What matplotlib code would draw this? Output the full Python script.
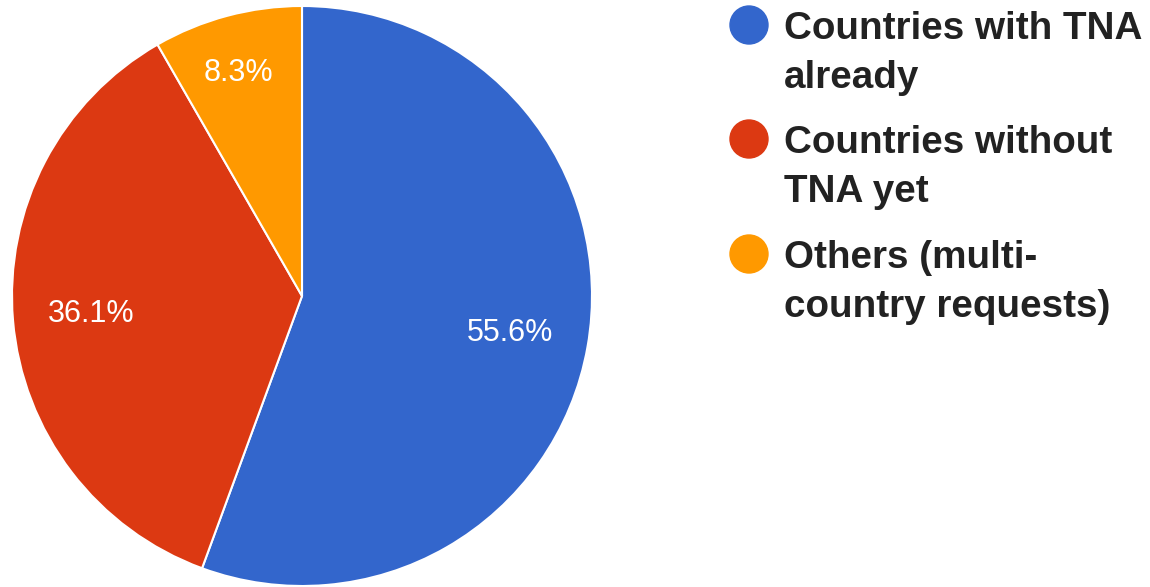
import matplotlib
matplotlib.use("Agg")
import matplotlib.pyplot as plt
from matplotlib.patches import Circle

# data
labels = ["Countries with TNA\nalready", "Countries without\nTNA yet", "Others (multi-\ncountry requests)"]
shares = [55.6, 36.1, 8.3]
colors = ["#3366cc", "#dc3912", "#ff9900"]

W, H = 1150, 587
fig = plt.figure(figsize=(W / 100, H / 100), dpi=100)

# pie
ax = fig.add_axes([12 / W, 1 - 586 / H, 580 / W, 580 / H])
wedges, texts, autotexts = ax.pie(
    shares, colors=colors, startangle=90, counterclock=False, radius=1,
    autopct="%.1f%%", pctdistance=0.73,
    wedgeprops=dict(edgecolor="white", linewidth=1.5),
    textprops=dict(color="white", fontsize=22, family="Liberation Sans"))
# small slice label sits a bit higher in the original
autotexts[2].set_position((-0.22, 0.77))
ax.set_xlim(-1, 1)
ax.set_ylim(-1, 1)
ax.set_aspect("equal")
ax.axis("off")

# legend drawn in pixel coords
lg = fig.add_axes([0, 0, 1, 1])
lg.set_xlim(0, W)
lg.set_ylim(H, 0)
lg.axis("off")
ys = [25, 139, 254]
for lab, c, y in zip(labels, colors, ys):
    lg.add_patch(Circle((749, y), 19, color=c))
    lg.text(784, y - 14, lab, ha="left", va="top", fontsize=27.8,
            fontweight="bold", color="#222222", family="Liberation Sans",
            linespacing=1.45)

fig.savefig("out.png", dpi=100)
